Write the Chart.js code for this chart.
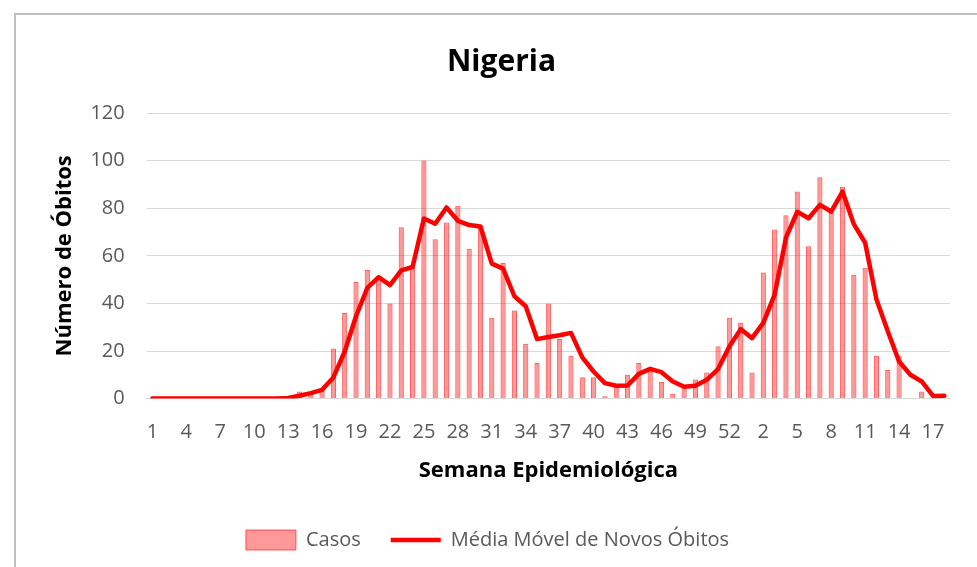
<!DOCTYPE html>
<html>
<head>
<meta charset="utf-8">
<script src="https://cdn.jsdelivr.net/npm/chart.js"></script>
<style>
  html, body { margin: 0; padding: 0; background: #fff; }
  #wrap { position: relative; width: 977px; height: 567px; overflow: hidden; }
  #frame { position: absolute; left: 14px; top: 13px; width: 1000px; height: 600px; border: 2px solid #bfbfbf; }
  #chart { position: absolute; left: 0; top: 0; }
</style>
</head>
<body>
<div id="wrap">
  <div id="frame"></div>
  <canvas id="chart" width="977" height="567"></canvas>
</div>
<script>
// semanas epidemiologicas: 2020 (1-53) e 2021 (1-18)
const semanas = [
  "1", "2", "3", "4", "5", "6", "7", "8", "9", "10", "11", "12", "13", "14", "15", "16", "17", "18",
  "19", "20", "21", "22", "23", "24", "25", "26", "27", "28", "29", "30", "31", "32", "33", "34", "35", "36",
  "37", "38", "39", "40", "41", "42", "43", "44", "45", "46", "47", "48", "49", "50", "51", "52", "53",
  "1", "2", "3", "4", "5", "6", "7", "8", "9", "10", "11", "12", "13", "14", "15", "16", "17", "18"
];

const casos = [
  0, 0, 0, 0, 0, 0, 0, 0, 0, 0, 0, 0, 0, 3, 2, 4, 21, 36,
  49, 54, 51, 40, 72, 55, 100, 67, 74, 81, 63, 72, 34, 57, 37, 23, 15, 40,
  25, 18, 9, 9, 1, 6, 10, 15, 12, 7, 2, 5, 8, 11, 22, 34, 32,
  11, 53, 71, 77, 87, 64, 93, 78, 89, 52, 55, 18, 12, 18, 0, 3, 0, 0
];

const mediaMovel = [
  0, 0, 0, 0, 0, 0, 0, 0, 0, 0, 0, 0, 0.3, 1.2, 2.3, 3.7, 8.9, 19.8,
  34.6, 46.5, 51, 47.7, 53.9, 55.3, 75.7, 73.5, 80.3, 74.7, 72.9, 72.3, 56.7, 54.6, 43, 38.8, 25, 25.9,
  26.6, 27.6, 17.3, 11.4, 6.5, 5.4, 5.5, 10.4, 12.5, 11.1, 7.2, 5, 5.4, 7.9, 12.4, 21.9, 29.2,
  25.4, 31.8, 43.7, 67.6, 78.5, 75.8, 81.4, 78.6, 87, 73.3, 65.5, 41.6, 28.3, 15.6, 10, 7.2, 1.1, 1.2
];

const FONT = "'Open Sans', 'Liberation Sans', sans-serif";
const GRAY = "#595959";

// a legenda do original fica um pouco a esquerda do centro
const legendShift = {
  id: "legendShift",
  afterLayout(chart) {
    const lg = chart.legend;
    if (lg) { lg.left -= 14; lg.right -= 14; }
  }
};

new Chart(document.getElementById("chart").getContext("2d"), {
  type: "bar",
  data: {
    labels: semanas,
    datasets: [
      {
        type: "bar",
        label: "Casos",
        data: casos,
        backgroundColor: "rgba(255, 0, 0, 0.4)",
        borderColor: "rgba(255, 40, 40, 0.75)",
        borderWidth: 1,
        barPercentage: 0.46,
        categoryPercentage: 1,
        order: 1
      },
      {
        type: "line",
        label: "Média Móvel de Novos Óbitos",
        data: mediaMovel,
        borderColor: "#ff0000",
        backgroundColor: "#ff0000",
        borderWidth: 4.5,
        borderJoinStyle: "round",
        borderCapStyle: "round",
        pointRadius: 0,
        tension: 0,
        order: 0
      }
    ]
  },
  options: {
    responsive: false,
    animation: false,
    layout: { padding: { left: 53, right: 27, top: 44, bottom: 7 } },
    plugins: {
      tooltip: { enabled: false },
      title: {
        display: true,
        text: "Nigeria",
        color: "#000",
        font: { family: FONT, size: 30, weight: "bold" },
        padding: { top: 0, bottom: 33 }
      },
      legend: {
        position: "bottom",
        labels: {
          color: GRAY,
          font: { family: FONT, size: 20 },
          usePointStyle: true,
          pointStyleWidth: 50,
          padding: 30,
          sort: (a, b) => a.datasetIndex - b.datasetIndex,
          generateLabels: function (chart) {
            const items = Chart.defaults.plugins.legend.labels.generateLabels(chart);
            items.forEach(function (it) {
              if (it.datasetIndex === 0) {
                it.pointStyle = "rect";
              } else {
                it.pointStyle = "line";
                it.lineWidth = 4.5;
                it.strokeStyle = "#ff0000";
              }
            });
            return items;
          }
        }
      }
    },
    scales: {
      x: {
        grid: { display: false, drawTicks: false },
        border: { color: "#d9d9d9", width: 1 },
        ticks: {
          color: GRAY,
          font: { family: FONT, size: 20 },
          autoSkip: false,
          maxRotation: 0,
          padding: 22,
          callback: function (value, index) {
            return index % 3 === 0 ? semanas[index] : null;
          }
        },
        title: {
          display: true,
          text: "Semana Epidemiológica",
          color: "#000",
          font: { family: FONT, size: 22, weight: "bold" },
          padding: { top: -9, bottom: 16 }
        }
      },
      y: {
        min: 0,
        max: 120,
        grid: { color: "#d9d9d9", lineWidth: 1, drawTicks: false },
        border: { display: false },
        ticks: {
          stepSize: 20,
          color: GRAY,
          font: { family: FONT, size: 20 },
          padding: 22
        },
        title: {
          display: true,
          text: "Número de Óbitos",
          color: "#000",
          font: { family: FONT, size: 22, weight: "bold" },
          padding: { top: -1, bottom: -10 }
        }
      }
    }
  },
  plugins: [legendShift]
});
</script>
</body>
</html>
